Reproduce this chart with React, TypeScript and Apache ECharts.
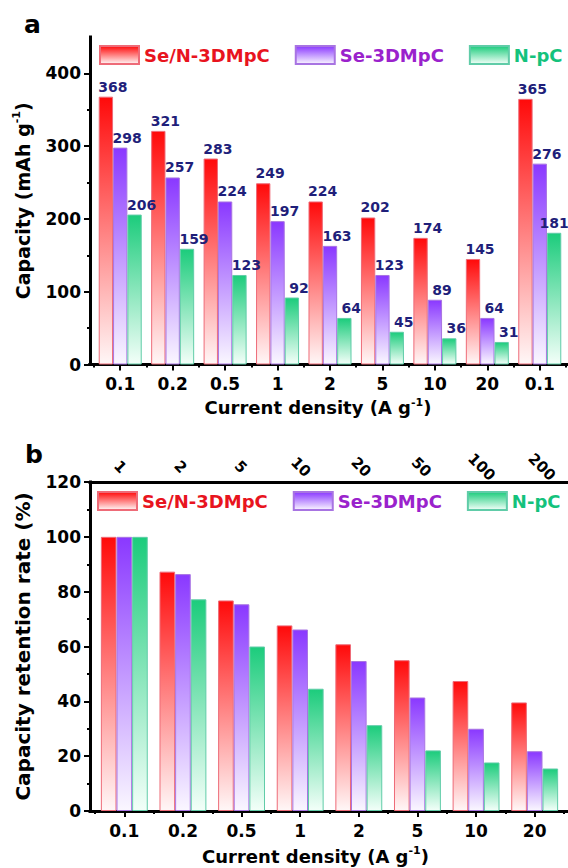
import React, { useEffect, useRef } from 'react';
import * as echarts from 'echarts';

const categoriesA = ['0.1', '0.2', '0.5', '1', '2', '5', '10', '20', '0.1'];
const seNA = [368, 321, 283, 249, 224, 202, 174, 145, 365];
const seA = [298, 257, 224, 197, 163, 123, 89, 64, 276];
const npcA = [206, 159, 123, 92, 64, 45, 36, 31, 181];

const categoriesB = ['0.1', '0.2', '0.5', '1', '2', '5', '10', '20'];
const topLabelsB = ['1', '2', '5', '10', '20', '50', '100', '200'];
const seNB = [100, 87.3, 76.8, 67.7, 60.8, 55.0, 47.4, 39.6];
const seB = [100, 86.4, 75.4, 66.2, 54.7, 41.4, 30.0, 21.8];
const npcB = [100, 77.2, 60.0, 44.6, 31.3, 22.1, 17.7, 15.5];

const seriesNames = ['Se/N-3DMpC', 'Se-3DMpC', 'N-pC'];
const yMajorA = [0, 100, 200, 300, 400];
const yMinorA = [50, 150, 250, 350];

const FONT = '"DejaVu Sans", "Liberation Sans", sans-serif';

export default function App() {
  const ref = useRef<HTMLDivElement>(null);
  useEffect(() => {
    document.body.style.margin = '0';
    const chart = echarts.init(ref.current as HTMLDivElement, null, { renderer: 'svg' });
    const grad = (top: string, bottom: string) => ({
      type: 'linear', x: 0, y: 0, x2: 0, y2: 1,
      colorStops: [{ offset: 0, color: top }, { offset: 1, color: bottom }],
    });
    const styles = [
      { fill: grad('#ff0a0a', '#fff7f7'), border: '#ee6b78', text: '#e8141e' },
      { fill: grad('#8a38ff', '#faf7ff'), border: '#a874e2', text: '#9a22cc' },
      { fill: grad('#1ccc7c', '#f3fff9'), border: '#60cca8', text: '#14c27c' },
    ];
    const T = { fontFamily: FONT, fontWeight: 'bold' as const, color: '#000' };
    const black = { color: '#000' };
    const supRich = { sup: { ...T, fontSize: 11, lineHeight: 12, verticalAlign: 'top' } };

    const gridA = { top: 37, bottom: 868 - 364.5 };
    const gridB = { top: 482, bottom: 57 };

    const labelAxis = (gi: number, data: string[], nameShift: number, gap: number) => ({
      type: 'category', gridIndex: gi, data, position: 'bottom',
      axisLine: { show: false },
      axisTick: { show: true, alignWithLabel: true, length: 6, lineStyle: { ...black, width: 2 } },
      axisLabel: { ...T, interval: 0, fontSize: 17, margin: 11 },
      splitLine: { show: false },
      name: 'Current density (A g{sup|-1})',
      nameLocation: 'middle',
      nameGap: gap,
      nameTextStyle: { ...T, fontSize: 18, lineHeight: 22, padding: [0, nameShift * 2, 0, 0], rich: supRich },
    });
    const minorAxis = (gi: number, data: string[]) => ({
      type: 'category', gridIndex: gi, data, position: 'bottom',
      axisLine: { show: false },
      axisTick: { show: true, interval: 0, length: 3, lineStyle: { ...black, width: 2 } },
      axisLabel: { show: false },
      splitLine: { show: false },
    });
    const lineAxis = (gi: number, pos: string) => ({
      type: 'category', gridIndex: gi, data: [''], position: pos,
      axisLine: { show: true, lineStyle: { ...black, width: 3, cap: 'square' } },
      axisTick: { show: false }, axisLabel: { show: false }, splitLine: { show: false },
    });

    const barSeries = (names: string[], values: number[][], xi: number, yi: number, gapPct: string, labels: boolean) =>
      names.map((n, i) => ({
        type: 'bar', name: n, xAxisIndex: xi, yAxisIndex: yi,
        data: values[i].map((v, j) =>
          labels && j === values[i].length - 1 && i === names.length - 1
            ? { value: v, label: { offset: [0, 0] } }
            : v),
        barGap: '0%', barCategoryGap: gapPct,
        itemStyle: { color: styles[i].fill, borderColor: styles[i].border, borderWidth: 1 },
        label: labels ? {
          show: true, position: 'top', distance: 3, offset: [7, 0],
          fontFamily: FONT, fontWeight: 'bold', fontSize: 14, color: '#1f1f7a',
        } : { show: false },
        emphasis: { disabled: true },
      }));

    const legend = (top: number, left: number) => ({
      top, left, width: 560, padding: 0, orient: 'horizontal', icon: 'rect',
      itemWidth: 39, itemHeight: 18, itemGap: 25, selectedMode: false,
      textStyle: { ...T, fontSize: 18, lineHeight: 20 },
      data: seriesNames.map((n, i) => ({ name: n, textStyle: { color: styles[i].text } })),
    });

    const option: any = {
      animation: false,
      backgroundColor: '#fff',
      grid: [
        { left: 94, right: 2, ...gridA, containLabel: false, outerBoundsMode: 'none' },
        { left: 90, right: -4, ...gridA, containLabel: false, outerBoundsMode: 'none' },
        { left: 95, right: 4, ...gridB, containLabel: false, outerBoundsMode: 'none' },
        { left: 90, right: -4, ...gridB, containLabel: false, outerBoundsMode: 'none' },
      ],
      legend: [legend(45, 99), legend(491, 97)],
      xAxis: [
        labelAxis(0, categoriesA, 12, 32),
        minorAxis(0, categoriesA),
        lineAxis(1, 'bottom'),
        lineAxis(1, 'top'),
        labelAxis(2, categoriesB, 14, 34),
        minorAxis(2, categoriesB),
        lineAxis(3, 'bottom'),
        {
          type: 'category', gridIndex: 3, data: topLabelsB, position: 'top',
          axisLine: { show: true, lineStyle: { ...black, width: 3, cap: 'square' } },
          axisTick: { show: false },
          axisLabel: { ...T, interval: 0, fontSize: 15, rotate: 45, margin: 15, align: 'center', verticalAlign: 'middle' },
          splitLine: { show: false },
        },
      ],
      yAxis: [
        { type: 'value', gridIndex: 0, min: 0, max: 450, show: false, splitLine: { show: false } },
        {
          type: 'value', gridIndex: 1, min: 0, max: 450, interval: 100, position: 'left',
          axisLine: { show: true, lineStyle: { ...black, width: 3, cap: 'square' } },
          axisTick: { show: true, length: 6, customValues: yMajorA, lineStyle: { ...black, width: 2 } },
          axisLabel: { ...T, fontSize: 17, margin: 9, customValues: yMajorA },
          splitLine: { show: false },
          name: 'Capacity (mAh g{sup|-1})', nameLocation: 'middle', nameGap: 50,
          nameTextStyle: { ...T, fontSize: 19, lineHeight: 24, rich: supRich },
        },
        { type: 'value', gridIndex: 2, min: 0, max: 120, show: false, splitLine: { show: false } },
        {
          type: 'value', gridIndex: 3, min: 0, max: 120, interval: 20, position: 'left',
          axisLine: { show: true, lineStyle: { ...black, width: 3, cap: 'square' } },
          axisTick: { show: true, length: 6, lineStyle: { ...black, width: 2 } },
          minorTick: { show: true, splitNumber: 2, length: 3, lineStyle: { ...black, width: 2 } },
          axisLabel: { ...T, fontSize: 17, margin: 9 },
          splitLine: { show: false }, minorSplitLine: { show: false },
          name: 'Capacity retention rate (%)', nameLocation: 'middle', nameGap: 50,
          nameTextStyle: { ...T, fontSize: 20, lineHeight: 24 },
        },
        {
          type: 'value', gridIndex: 1, min: 0, max: 450, interval: 50, position: 'left',
          axisLine: { show: false },
          axisTick: { show: true, length: 3, customValues: yMinorA, lineStyle: { ...black, width: 2 } },
          axisLabel: { show: false },
          splitLine: { show: false },
        },
      ],
      series: [
        ...barSeries(seriesNames, [seNA, seA, npcA], 0, 0, '18%', true),
        ...barSeries(seriesNames, [seNB, seB, npcB], 4, 2, '20%', false),
      ],
      graphic: [
        { type: 'text', left: 24, top: 12, style: { text: 'a', font: `bold 25px ${FONT}`, fill: '#000' } },
        { type: 'text', left: 25, top: 442, style: { text: 'b', font: `bold 25px ${FONT}`, fill: '#000' } },
      ],
    };
    chart.setOption(option);
    return () => chart.dispose();
  }, []);
  return <div ref={ref} style={{ width: 568, height: 868 }} />;
}
